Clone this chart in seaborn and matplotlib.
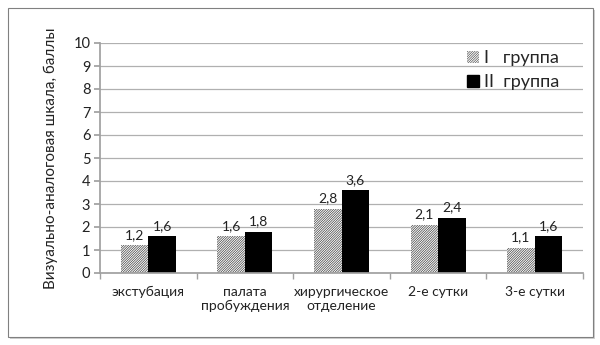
import matplotlib
matplotlib.use("Agg")
import matplotlib.pyplot as plt
import seaborn as sns
import pandas as pd
from matplotlib.patches import Rectangle, Patch

categories = ["экстубация", "палата\nпробуждения", "хирургическое\nотделение", "2-е сутки", "3-е сутки"]
group_names = ["I   группа", "II  группа"]
group1 = [1.2, 1.6, 2.8, 2.1, 1.1]
group2 = [1.6, 1.8, 3.6, 2.4, 1.6]
y_ticks = list(range(0, 11))

df = pd.DataFrame({
    "cat": categories * 2,
    "group": [group_names[0]] * len(categories) + [group_names[1]] * len(categories),
    "val": group1 + group2,
})

sns.set_theme(style="white")
plt.rcParams['font.family'] = ['Lato', 'DejaVu Sans']
plt.rcParams['hatch.color'] = '#404040'
plt.rcParams['hatch.linewidth'] = 0.5

HATCH = '/' * 14

fig = plt.figure(figsize=(6, 3.45), dpi=100)
# outer frame with shadow
fig.patches.append(Rectangle((10/600, 1-339/345), 585/600, 329/345, transform=fig.transFigure,
                             facecolor='#d0d0d0', edgecolor='none', zorder=-2))
fig.patches.append(Rectangle((8/600, 1-337/345), 585/600, 329/345, transform=fig.transFigure,
                             facecolor='white', edgecolor='#808080', linewidth=0.8, zorder=-1))

ax = fig.add_axes([100/600, 1-273/345, 483/600, 230/345])
ax.set_zorder(2)
ax.set_facecolor('none')
sns.barplot(data=df, x="cat", y="val", hue="group", palette=["white", "black"],
            saturation=1, width=0.57, ax=ax, edgecolor='none', linewidth=0, legend=False)

n = len(categories)
for i, p in enumerate(ax.patches[:2*n]):
    if i < n:
        p.set_facecolor('white')
        p.set_hatch(HATCH)
        p.set_edgecolor('#404040')
        p.set_linewidth(0)
    else:
        p.set_facecolor('black')

for cont in ax.containers:
    labels = [f"{v:.1f}".replace('.', ',') for v in cont.datavalues]
    ax.bar_label(cont, labels=labels, padding=3, fontsize=10, color='#222222')

ax.set_ylim(0, 10)
ax.set_yticks(y_ticks)
ax.set_xlim(-0.5, n - 0.5)
ax.yaxis.grid(True, color='#b0b0b0', linewidth=0.9)
ax.set_axisbelow(True)
for s in ['top', 'right']:
    ax.spines[s].set_visible(False)
ax.spines['left'].set_color('#a0a0a0')
ax.spines['bottom'].set_color('#a0a0a0')
ax.tick_params(axis='y', labelsize=10.5, length=4, color='#a0a0a0', left=True, pad=3, labelcolor='#222222')
ax.tick_params(axis='x', which='major', labelsize=10, length=0, pad=9, labelcolor='#222222')
ax.set_xticks([i + 0.5 for i in range(-1, n)], minor=True)
ax.tick_params(axis='x', which='minor', length=4, color='#a0a0a0', bottom=True)
ax.set_xlabel("")
ax.set_ylabel("Визуально-аналоговая шкала, баллы", fontsize=11, color='#222222', labelpad=11)

handles = [Patch(facecolor='white', hatch=HATCH, edgecolor='#555555', linewidth=0),
           Patch(facecolor='black', edgecolor='black')]
leg = ax.legend(handles, group_names, loc='upper right', bbox_to_anchor=(0.985, 1.04), frameon=False,
                fontsize=13, handlelength=0.65, handleheight=0.65, handletextpad=0.3, labelspacing=0.45)

fig.savefig("out.png", dpi=100)
